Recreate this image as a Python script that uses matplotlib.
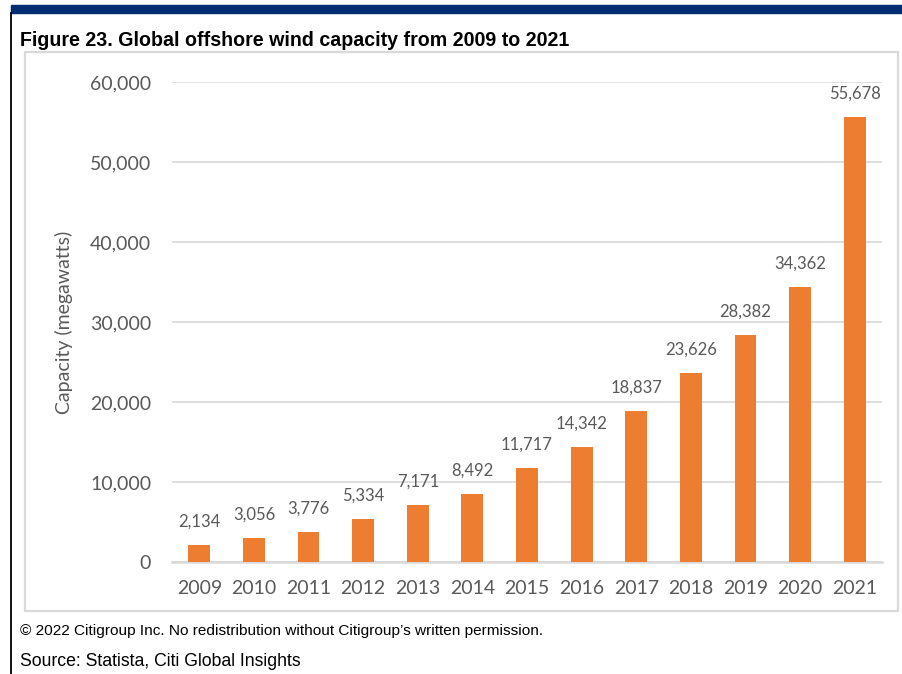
import matplotlib.pyplot as plt
from matplotlib.patches import Rectangle
from matplotlib.lines import Line2D
import matplotlib.ticker as ticker
import numpy as np

years = ['2009', '2010', '2011', '2012', '2013', '2014', '2015',
         '2016', '2017', '2018', '2019', '2020', '2021']
capacity = [2134, 3056, 3776, 5334, 7171, 8492, 11717,
            14342, 18837, 23626, 28382, 34362, 55678]

W, H = 903, 674
gray = '#595959'
orange = '#ED7D31'
navy = '#002D72'
chart_font = ['Lato', 'DejaVu Sans']
head_font = ['Liberation Sans Narrow', 'Liberation Sans', 'DejaVu Sans']

fig = plt.figure(figsize=(W / 100, H / 100), dpi=100)

# page furniture in pixel coordinates
def px(x, y):
    return x / W, 1 - y / H

fig.patches.append(Rectangle(px(11, 13), (W - 11) / W, 8 / H, transform=fig.transFigure,
                             color=navy, zorder=0))
fig.lines.append(Line2D([11.5 / W, 11.5 / W], [1 - 13 / H, 0], transform=fig.transFigure,
                        color='black', lw=1.3))
fig.patches.append(Rectangle(px(25, 611), (898 - 25) / W, (611 - 52) / H,
                             transform=fig.transFigure, fill=False,
                             edgecolor='#d9d9d9', lw=1.6, zorder=0))

fig.text(20 / W, 1 - 40 / H, 'Figure 23. Global offshore wind capacity from 2009 to 2021',
         family=head_font, weight='bold', fontsize=14.1, va='center', ha='left')
fig.text(20 / W, 1 - 631 / H,
         '\u00a9 2022 Citigroup Inc. No redistribution without Citigroup\u2019s written permission.',
         family=head_font, fontsize=11.1, va='center', ha='left')
fig.text(20 / W, 1 - 662 / H, 'Source: Statista, Citi Global Insights',
         family=head_font, fontsize=12.7, va='center', ha='left')

ax = fig.add_axes([172 / W, 1 - 562 / H, (882 - 172) / W, (562 - 82) / H])
x = np.arange(len(years))
bars = ax.bar(x, capacity, width=0.4, color=orange, zorder=3)

for xi, v in zip(x, capacity):
    ax.annotate(f'{v:,}', (xi, v), xytext=(0, 11), textcoords='offset points',
                ha='center', va='bottom', fontsize=12, color=gray, family=chart_font)

ax.set_xlim(-0.5, len(years) - 0.5)
ax.set_ylim(0, 60000)
ax.set_yticks(np.arange(0, 60001, 10000))
ax.yaxis.set_major_formatter(ticker.FuncFormatter(lambda v, pos: f'{int(v):,}'))
ax.set_xticks(x, years)
ax.grid(axis='y', color='#d9d9d9', lw=1.2, zorder=0)
for s in ['top', 'right', 'left']:
    ax.spines[s].set_visible(False)
ax.spines['bottom'].set_color('#d9d9d9')
ax.spines['bottom'].set_linewidth(1.8)
ax.tick_params(length=0, colors=gray, labelsize=14)
ax.tick_params(axis='x', pad=13)
ax.tick_params(axis='y', pad=15)
for lab in ax.get_xticklabels() + ax.get_yticklabels():
    lab.set_family(chart_font)
ax.set_ylabel('Capacity (megawatts)', fontsize=14, color=gray, family=chart_font, labelpad=12)

fig.savefig('out.png', dpi=100)
